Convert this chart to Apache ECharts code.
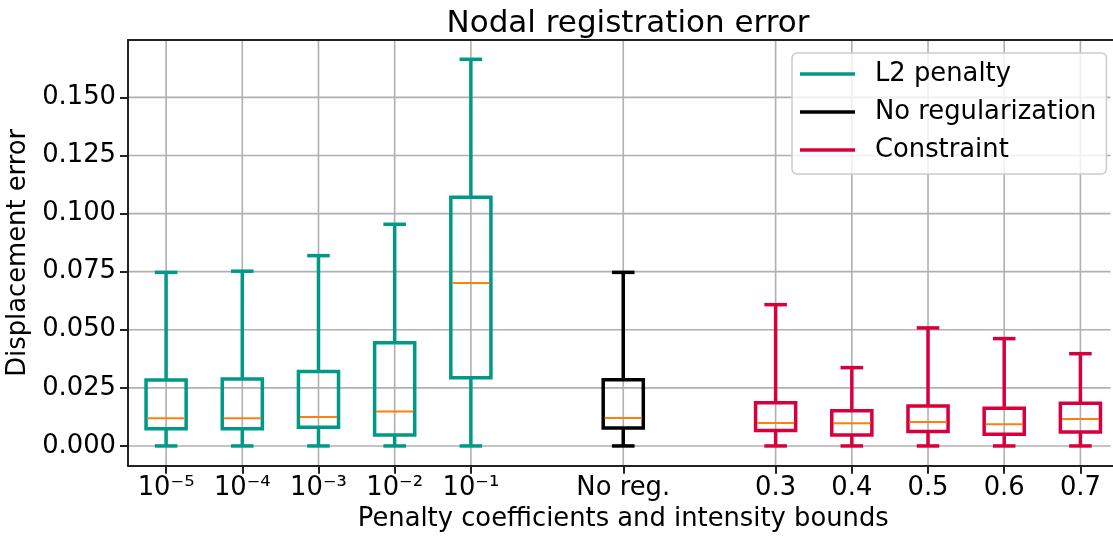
<!DOCTYPE html>
<html><head><meta charset="utf-8">
<script src="https://cdn.jsdelivr.net/npm/echarts@6/dist/echarts.min.js"></script>
<style>html,body{margin:0;padding:0;background:#fff;overflow:hidden}#c{width:1113px;height:537px}</style>
</head><body><div id="c"></div>
<script>
// ---- data ----
const categories = ['10⁻⁵','10⁻⁴','10⁻³','10⁻²','10⁻¹','','No reg.','','0.3','0.4','0.5','0.6','0.7'];
const l2Categories = ['10⁻⁵','10⁻⁴','10⁻³','10⁻²','10⁻¹'];
// each row: [lower whisker, Q1, median, Q3, upper whisker]
const l2Boxes = [
  [0, 0.0074, 0.0119, 0.0284, 0.0747],
  [0, 0.0074, 0.0119, 0.0288, 0.0752],
  [0, 0.0080, 0.0125, 0.0320, 0.0819],
  [0, 0.0047, 0.0148, 0.0444, 0.0954],
  [0, 0.0293, 0.0701, 0.1070, 0.1664]
];
const noRegCategories = ['No reg.'];
const noRegBoxes = [
  [0, 0.0077, 0.0120, 0.0285, 0.0747]
];
const constraintCategories = ['0.3','0.4','0.5','0.6','0.7'];
const constraintBoxes = [
  [0, 0.0066, 0.0099, 0.0186, 0.0608],
  [0, 0.0047, 0.0098, 0.0152, 0.0337],
  [0, 0.0062, 0.0103, 0.0172, 0.0508],
  [0, 0.0050, 0.0093, 0.0162, 0.0462],
  [0, 0.0060, 0.0116, 0.0184, 0.0397]
];
const yTicks = [0, 0.025, 0.05, 0.075, 0.1, 0.125, 0.15];
const yMin = -0.0085, yMax = 0.1747;
const xMin = -0.5, xMax = 12.5;   // axis window in slots; the right spine lies just outside the picture

const FONT = 'DejaVu Sans';
const FS = 25.8;
const TEAL = '#009988', BLACK = '#000000', RED = '#d7003c', MEDIAN = '#ff7f0e';

function toData(cats, boxes) {
  return cats.map((c, i) => [categories.indexOf(c)].concat(boxes[i]));
}
const xTickValues = categories.map((c, i) => i).filter(i => categories[i] !== '');

function boxRenderer(color) {
  return function (params, api) {
    const x = api.value(0);
    const lo = api.coord([x, api.value(1)]);
    const q1 = api.coord([x, api.value(2)]);
    const md = api.coord([x, api.value(3)]);
    const q3 = api.coord([x, api.value(4)]);
    const hi = api.coord([x, api.value(5)]);
    const unit = api.size([1, 0])[0];
    const hw = unit * 0.25 + 1, cw = unit * 0.125 + 1.75;
    const cx = lo[0];
    const st = { stroke: color, lineWidth: 3.5, fill: null };
    return { type: 'group', children: [
      { type: 'line', shape: { x1: cx, y1: lo[1], x2: cx, y2: q1[1] }, style: st },
      { type: 'line', shape: { x1: cx, y1: q3[1], x2: cx, y2: hi[1] }, style: st },
      { type: 'line', shape: { x1: cx - cw, y1: lo[1], x2: cx + cw, y2: lo[1] }, style: st },
      { type: 'line', shape: { x1: cx - cw, y1: hi[1], x2: cx + cw, y2: hi[1] }, style: st },
      { type: 'rect', shape: { x: cx - hw, y: q3[1], width: 2 * hw, height: q1[1] - q3[1] }, style: { stroke: color, lineWidth: 3.5, fill: 'none' } },
      { type: 'line', shape: { x1: cx - hw + 1.5, y1: md[1], x2: cx + hw - 1.5, y2: md[1] }, style: { stroke: MEDIAN, lineWidth: 2 } }
    ]};
  };
}

const vGridData = xTickValues.map(i => [i, 0]);
const hGridData = yTicks.map(v => [0, v]);

const chart = echarts.init(document.getElementById('c'), null, { renderer: 'canvas' });
chart.setOption({
  animation: false,
  backgroundColor: '#fff',
  textStyle: { fontFamily: FONT, color: '#000' },
  title: {
    text: 'Nodal registration error',
    left: 623, top: 3, textAlign: 'center',
    textStyle: { fontFamily: FONT, fontSize: 31, fontWeight: 'normal', color: '#000', lineHeight: 31 }
  },
  legend: {
    data: ['L2 penalty', 'No regularization', 'Constraint'],
    orient: 'vertical',
    left: 792, top: 53,
    padding: [8, 10, 11, 8],
    itemGap: 12,
    itemWidth: 55, itemHeight: 3.5,
    icon: 'rect',
    backgroundColor: 'rgba(255,255,255,0.8)',
    borderColor: '#cccccc', borderWidth: 1.5, borderRadius: 5,
    textStyle: { fontFamily: FONT, fontSize: FS, color: '#000', lineHeight: 26, padding: [0, 0, 0, 15] }
  },
  grid: { left: 128, right: -5.5, top: 40, bottom: 71.3, show: false, containLabel: false, outerBoundsMode: 'none' },
  xAxis: [{
    type: 'value', min: xMin, max: xMax, z: 5,
    name: 'Penalty coefficients and intensity bounds', nameLocation: 'middle', nameGap: 40,
    nameTextStyle: { fontFamily: FONT, fontSize: FS, color: '#000', lineHeight: 26 },
    axisLine: { show: true, onZero: false, lineStyle: { color: '#222', width: 2 } },
    axisTick: { show: true, customValues: xTickValues, length: 8, lineStyle: { color: '#222', width: 2 } },
    axisLabel: { customValues: xTickValues, margin: 10, fontFamily: FONT, fontSize: FS, color: '#000', lineHeight: 26,
      formatter: function (v) { return categories[Math.round(v)] || ''; } },
    splitLine: { show: false }
  }, {
    type: 'value', position: 'top', min: xMin, max: xMax, z: 5,
    axisLine: { show: true, onZero: false, lineStyle: { color: '#222', width: 2 } },
    axisTick: { show: false }, axisLabel: { show: false }, splitLine: { show: false }
  }],
  yAxis: {
    type: 'value', min: yMin, max: yMax, z: 5,
    name: 'Displacement error', nameLocation: 'middle', nameGap: 91,
    nameTextStyle: { fontFamily: FONT, fontSize: FS, color: '#000', lineHeight: 26 },
    axisLine: { show: true, onZero: false, lineStyle: { color: '#222', width: 2 } },
    axisTick: { show: true, customValues: yTicks, length: 8, lineStyle: { color: '#222', width: 2 } },
    axisLabel: { customValues: yTicks, margin: 12, fontFamily: FONT, fontSize: FS, color: '#000',
      formatter: function (v) { return v.toFixed(3); } },
    splitLine: { show: false }
  },
  graphic: [{
    type: 'rect', z: 100, silent: true,
    shape: { x: 1110.5, y: 41.5, width: 4, height: 422 },
    style: { fill: '#fff' }
  }],
  series: [
    { type: 'custom', name: 'vgrid', silent: true, z: 1, data: vGridData,
      renderItem: function (params, api) {
        const p = api.coord([api.value(0), 0]);
        const cs = params.coordSys;
        return { type: 'line', shape: { x1: p[0], y1: cs.y, x2: p[0], y2: cs.y + cs.height }, style: { stroke: '#b0b0b0', lineWidth: 1.6 } };
      } },
    { type: 'custom', name: 'hgrid', silent: true, z: 1, data: hGridData,
      renderItem: function (params, api) {
        const p = api.coord([0, api.value(1)]);
        const cs = params.coordSys;
        return { type: 'line', shape: { x1: cs.x, y1: p[1], x2: cs.x + cs.width, y2: p[1] }, style: { stroke: '#b0b0b0', lineWidth: 1.6 } };
      } },
    { type: 'custom', name: 'L2 penalty', z: 3, itemStyle: { color: TEAL }, data: toData(l2Categories, l2Boxes), renderItem: boxRenderer(TEAL) },
    { type: 'custom', name: 'No regularization', z: 3, itemStyle: { color: BLACK }, data: toData(noRegCategories, noRegBoxes), renderItem: boxRenderer(BLACK) },
    { type: 'custom', name: 'Constraint', z: 3, itemStyle: { color: RED }, data: toData(constraintCategories, constraintBoxes), renderItem: boxRenderer(RED) }
  ]
});
</script></body></html>
